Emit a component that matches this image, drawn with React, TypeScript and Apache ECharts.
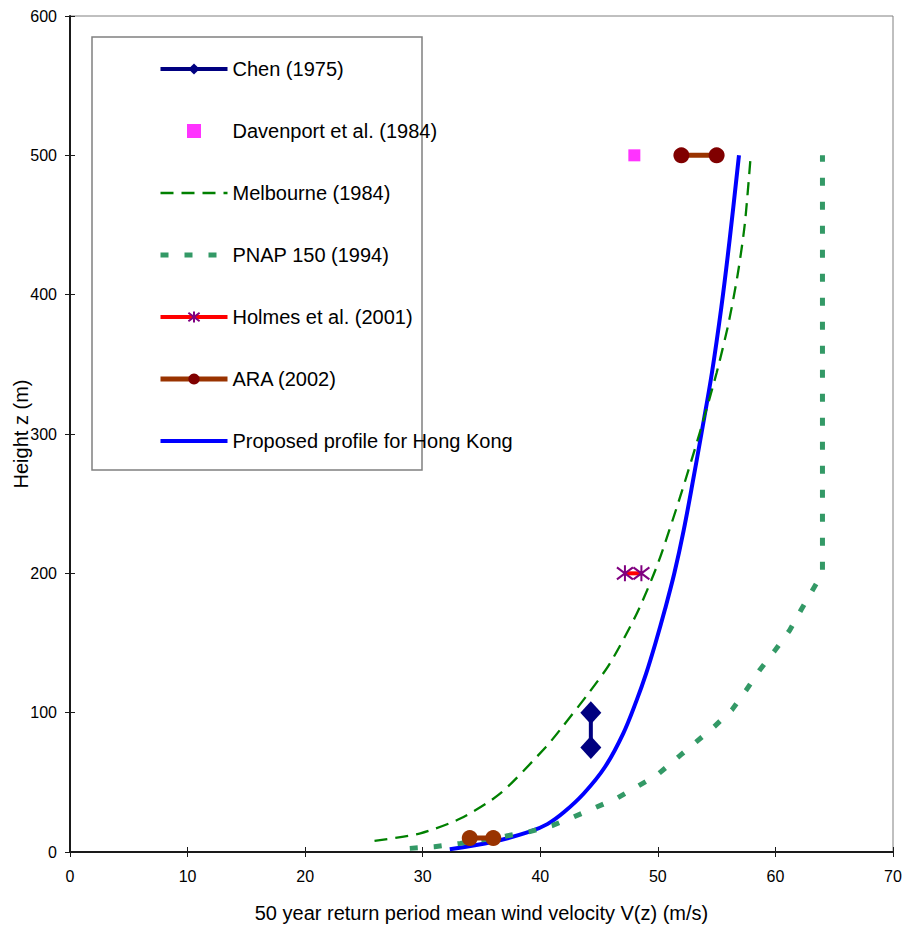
import React, { useEffect, useRef } from "react";
import * as echarts from "echarts";

const xMin = 0;
const xMax = 70;
const xInterval = 10;
const yMin = 0;
const yMax = 600;
const yInterval = 100;

const seriesNames = [
  "Chen (1975)",
  "Davenport et al. (1984)",
  "Melbourne (1984)",
  "PNAP 150 (1994)",
  "Holmes et al. (2001)",
  "ARA (2002)",
  "Proposed profile for Hong Kong",
];

const chenData = [
  [44.3, 75],
  [44.3, 100],
];
const davenportData = [[48, 500]];
const melbourneData = [
  [25.9, 8],
  [29.8, 13.4],
  [33.2, 24],
  [36.6, 42],
  [40.5, 75.6],
  [41.9, 90],
  [44.2, 115],
  [45.9, 135],
  [48.2, 171],
  [50.0, 207],
  [51.9, 255],
  [53.6, 302],
  [55.0, 344],
  [56.0, 379],
  [56.8, 415],
  [57.4, 451],
  [57.9, 500],
];
const pnapData = [
  [28.9, 2.6],
  [31.0, 3.8],
  [33.2, 6.2],
  [37.1, 11.5],
  [39.1, 14.6],
  [41.0, 18.9],
  [42.8, 25],
  [46.5, 38.5],
  [49.9, 55],
  [52.0, 70],
  [54.8, 90],
  [56.3, 102],
  [57.5, 116],
  [58.7, 131],
  [59.9, 144],
  [61.2, 159],
  [62.2, 174],
  [63.3, 190],
  [64.0, 200],
  [64.0, 500],
];
const holmesData = [
  [47.2, 200],
  [48.6, 200],
];
const araTopData = [
  [52, 500],
  [55, 500],
];
const araLowData = [
  [34, 10],
  [36, 10],
];
const proposedData = [
  [32.3, 2],
  [36.0, 7.4],
  [39.1, 14.6],
  [40.6, 20],
  [42.0, 28.5],
  [43.7, 42],
  [45.5, 61],
  [47.05, 85],
  [48.2, 109],
  [49.0, 128],
  [49.8, 150],
  [50.6, 174],
  [51.4, 200],
  [52.2, 231],
  [53.0, 267],
  [53.7, 300],
  [54.6, 344],
  [55.4, 391],
  [56.1, 439],
  [56.9, 500],
];

const FONT = "'Liberation Sans', Arial, sans-serif";
const AXIS_COLOR = "#1a1a1a";
const asteriskPath = "path://M8,0L8,16M2,2L14,14M2,14L14,2";
const squareIcon = "path://M0,0L12,0L12,12L0,12Z";

export default function App() {
  const ref = useRef<HTMLDivElement>(null);

  useEffect(() => {
    if (!ref.current) return;
    const chart = echarts.init(ref.current, null, { renderer: "svg" });

    const baseAxisX = {
      type: "value" as const,
      min: xMin,
      max: xMax,
      interval: xInterval,
      splitLine: { show: false },
    };
    const baseAxisY = {
      type: "value" as const,
      min: yMin,
      max: yMax,
      interval: yInterval,
      splitLine: { show: false },
    };

    chart.setOption({
      animation: false,
      backgroundColor: "#ffffff",
      textStyle: { fontFamily: FONT },
      grid: {
        left: 70,
        right: 10,
        top: 16,
        bottom: 75,
        containLabel: false,
        outerBoundsMode: "none",
        show: true,
        borderColor: "#808080",
        borderWidth: 1,
        backgroundColor: "transparent",
      },
      graphic: [
        {
          type: "rect",
          z: 0,
          shape: { x: 92, y: 37, width: 330, height: 433 },
          style: { fill: "#ffffff", stroke: "#808080", lineWidth: 1.5 },
          silent: true,
        },
      ],
      legend: {
        data: [
          { name: seriesNames[0], lineStyle: { width: 4 } },
          { name: seriesNames[1], icon: squareIcon },
          { name: seriesNames[2], lineStyle: { width: 2.5 }, itemStyle: { opacity: 0 } },
          { name: seriesNames[3], lineStyle: { width: 5 }, itemStyle: { opacity: 0 } },
          { name: seriesNames[4], lineStyle: { width: 4 } },
          { name: seriesNames[5], lineStyle: { width: 5 } },
          { name: seriesNames[6], lineStyle: { width: 4 }, itemStyle: { opacity: 0 } },
        ],
        orient: "vertical",
        left: 158,
        top: 59,
        itemWidth: 67,
        itemHeight: 14,
        itemGap: 42,
        padding: 0,
        textStyle: { fontSize: 20, color: "#000", fontFamily: FONT },
        selectedMode: false,
      },
      xAxis: [
        {
          ...baseAxisX,
          position: "bottom",
          name: "50 year return period mean wind velocity V(z) (m/s)",
          nameLocation: "middle",
          nameGap: 51,
          nameMoveOverlap: false,
          nameTextStyle: { fontSize: 20, color: "#000", fontFamily: FONT },
          axisLine: { show: true, onZero: false, lineStyle: { color: AXIS_COLOR, width: 2 } },
          axisTick: { show: true, inside: false, length: 5, lineStyle: { color: AXIS_COLOR, width: 1 } },
          axisLabel: { fontSize: 16, color: "#000", margin: 16, fontFamily: FONT },
        },
        {
          ...baseAxisX,
          position: "bottom",
          axisLine: { show: false },
          axisTick: { show: true, inside: true, length: 5, lineStyle: { color: AXIS_COLOR, width: 1 } },
          axisLabel: { show: false },
        },
      ],
      yAxis: [
        {
          ...baseAxisY,
          position: "left",
          name: "Height z (m)",
          nameLocation: "middle",
          nameGap: 39,
          nameMoveOverlap: false,
          nameTextStyle: { fontSize: 20, color: "#000", fontFamily: FONT },
          axisLine: { show: true, onZero: false, lineStyle: { color: AXIS_COLOR, width: 2 } },
          axisTick: { show: true, inside: false, length: 5, lineStyle: { color: AXIS_COLOR, width: 1 } },
          axisLabel: { fontSize: 16, color: "#000", margin: 13, fontFamily: FONT },
        },
        {
          ...baseAxisY,
          position: "left",
          axisLine: { show: false },
          axisTick: { show: true, inside: true, length: 5, lineStyle: { color: AXIS_COLOR, width: 1 } },
          axisLabel: { show: false },
        },
      ],
      series: [
        {
          name: seriesNames[6],
          type: "line",
          data: proposedData,
          smooth: 0.35,
          symbol: "none",
          lineStyle: { color: "#0000ff", width: 4 },
          itemStyle: { color: "#0000ff" },
          z: 2,
        },
        {
          name: seriesNames[2],
          type: "line",
          data: melbourneData,
          smooth: 0.25,
          symbol: "none",
          lineStyle: { color: "#008000", width: 2.3, type: [13, 8] },
          itemStyle: { color: "#008000" },
          z: 2,
        },
        {
          name: seriesNames[3],
          type: "line",
          data: pnapData,
          smooth: false,
          symbol: "none",
          lineStyle: { color: "#339966", width: 5, type: [8, 16] },
          itemStyle: { color: "#339966" },
          z: 2,
        },
        {
          name: seriesNames[0],
          type: "line",
          data: chenData,
          symbol: "diamond",
          symbolSize: [21, 23],
          lineStyle: { color: "#000080", width: 4 },
          itemStyle: { color: "#000080" },
          z: 3,
        },
        {
          name: seriesNames[1],
          type: "scatter",
          data: davenportData,
          symbol: "rect",
          symbolSize: 12,
          itemStyle: { color: "#ff00ff" },
          z: 3,
        },
        {
          name: seriesNames[4],
          type: "line",
          data: holmesData,
          symbol: asteriskPath,
          symbolSize: 16,
          lineStyle: { color: "#ff0000", width: 4 },
          itemStyle: { color: "#800080", borderColor: "#800080", borderWidth: 2 },
          z: 3,
        },
        {
          name: seriesNames[5],
          type: "line",
          data: araTopData,
          symbol: "circle",
          symbolSize: 16,
          lineStyle: { color: "#993300", width: 5 },
          itemStyle: { color: "#800000" },
          z: 3,
        },
        {
          name: "ARA (2002) low",
          type: "line",
          data: araLowData,
          symbol: "circle",
          symbolSize: 16,
          lineStyle: { color: "#993300", width: 5 },
          itemStyle: { color: "#993300" },
          z: 3,
        },
      ],
    });

    return () => chart.dispose();
  }, []);

  return (
    <div
      ref={ref}
      style={{ position: "fixed", left: 0, top: 0, width: 903, height: 927, background: "#fff" }}
    />
  );
}
